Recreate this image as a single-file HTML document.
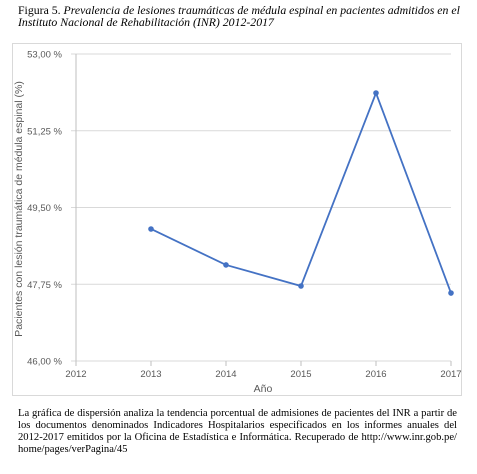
<!DOCTYPE html>
<html><head><meta charset="utf-8"><style>
body{margin:0;background:#fff;width:477px;height:474px;overflow:hidden;font-family:"Liberation Serif",serif}
.t{position:absolute;left:18px;top:4px;font-size:11.8px;line-height:12px;width:459px;color:#000;white-space:nowrap}
.c{position:absolute;left:18px;top:408px;width:439px;font-size:10.6px;line-height:12px;text-align:justify;color:#000}
svg{position:absolute;left:0;top:0}
</style></head><body>
<div class="t">Figura 5. <i>Prevalencia de lesiones traumáticas de médula espinal en pacientes admitidos en el</i><br><i>Instituto Nacional de Rehabilitación (INR) 2012-2017</i></div>
<svg id="ch" width="477" height="474">
<rect x="12.5" y="43.5" width="449" height="352" fill="#fff" stroke="#d9d9d9"/>
</svg>
<div class="c">La gráfica de dispersión analiza la tendencia porcentual de admisiones de pacientes del INR a partir de los documentos denominados Indicadores Hospitalarios especificados en los informes anuales del 2012-2017 emitidos por la Oficina de Estadística e Informática. Recuperado de http://www.inr.gob.pe/ home/pages/verPagina/45</div>
<script>
const years=[2013,2014,2015,2016,2017];
const values=[49.01,48.19,47.71,52.11,47.55];
const yTicks=[46,47.75,49.5,51.25,53];
const yTickLabels=["46,00 %","47,75 %","49,50 %","51,25 %","53,00 %"];
const xTicks=[2012,2013,2014,2015,2016,2017];
const NS="http://www.w3.org/2000/svg",svg=document.getElementById('ch');
const X=v=>76+(v-2012)*75, Y=v=>361-(v-46)*(307/7);
function mk(t,a,txt){const e=document.createElementNS(NS,t);for(const k in a)e.setAttribute(k,a[k]);if(txt!=null)e.textContent=txt;svg.appendChild(e);return e;}
const F='"Liberation Sans","DejaVu Sans",sans-serif';
yTicks.forEach((v,i)=>{
 const g=mk('line',{x1:71,x2:451,y1:Y(v),y2:Y(v),stroke:'#d9d9d9','stroke-width':1});
 
 
 const t=mk('text',{x:62,y:Y(v)+3.5,'text-anchor':'end','font-size':9.5,fill:'#595959','font-family':F},yTickLabels[i]);
 
 
});
const ax=mk('line',{x1:76,x2:76,y1:54,y2:366,stroke:'#bfbfbf'});


xTicks.forEach(v=>{
 const k=mk('line',{x1:X(v),x2:X(v),y1:361,y2:366,stroke:'#bfbfbf'});
 
 
 const t=mk('text',{x:X(v),y:377,'text-anchor':'middle','font-size':9.5,fill:'#595959','font-family':F},String(v));
 
 
});
const xt=mk('text',{x:263,y:392,'text-anchor':'middle','font-size':10.5,fill:'#595959','font-family':F},'Año');


const yt=mk('text',{x:0,y:0,transform:'translate(22,209) rotate(-90)','text-anchor':'middle','font-size':10.5,fill:'#595959','font-family':F},'Pacientes con lesión traumática de médula espinal (%)');


const pl=mk('polyline',{points:years.map((y,i)=>X(y)+','+Y(values[i])).join(' '),fill:'none',stroke:'#4472c4','stroke-width':1.8});


years.forEach((y,i)=>{
 const c=mk('circle',{cx:X(y),cy:Y(values[i]),r:2.8,fill:'#4472c4'});
 
 
});
</script>
</body></html>
